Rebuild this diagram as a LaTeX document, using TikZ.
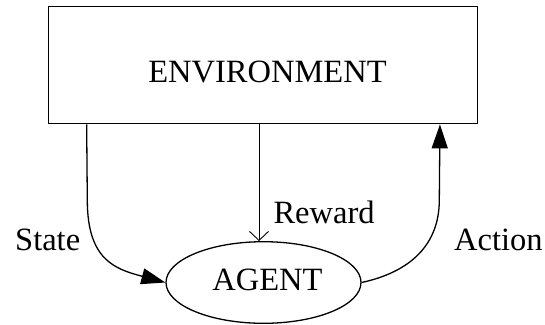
\documentclass[tikz,border=0pt]{standalone}
\usepackage{fontspec}
\setmainfont{Liberation Serif}
\usetikzlibrary{arrows.meta,shapes.geometric}
\tikzset{
  box/.style={draw, line width=1.3pt, rectangle, inner sep=0pt},
  oval/.style={draw, line width=1.3pt, ellipse, inner sep=0pt},
  flow/.style={line width=1.3pt, -{Triangle[length=24pt,width=16pt]}},
  thin flow/.style={line width=0.9pt, -{Straight Barb[length=9pt,width=19pt,line width=0.9pt]}},
  lbl/.style={inner sep=0pt, anchor=base west},
  big/.style={font=\fontsize{32.5}{39}\selectfont}
}
\begin{document}
\begin{tikzpicture}[x=1pt,y=-1pt,big]
\useasboundingbox (0,0) rectangle (545,324);
\node[box, minimum width=429.4pt, minimum height=117.4pt, text height=35.4pt, text depth=0pt] (env) at (263,65) {\hspace*{9pt}ENVIRONMENT};
\node[oval, minimum width=195pt, minimum height=81.6pt, text height=15pt, text depth=0pt] (agent) at (263.5,282.5) {\hspace*{8pt}AGENT};
\node[lbl] (state) at (15,250.7) {State};
\node[lbl] (reward) at (273.3,223.3) {Reward};
\node[lbl] (action) at (454,250) {Action};
\draw[flow] ([xshift=39pt]env.south west) -- (87.3,200) .. controls (87.3,260) and (115,269) .. (agent.west);
\draw[thin flow] ([xshift=-4pt]env.south) -- ([xshift=-4.5pt]agent.north);
\draw[flow] (agent.east) .. controls (410,272) and (439.3,245) .. (439.3,200) -- ([xshift=-38.4pt]env.south east);
\end{tikzpicture}
\end{document}
